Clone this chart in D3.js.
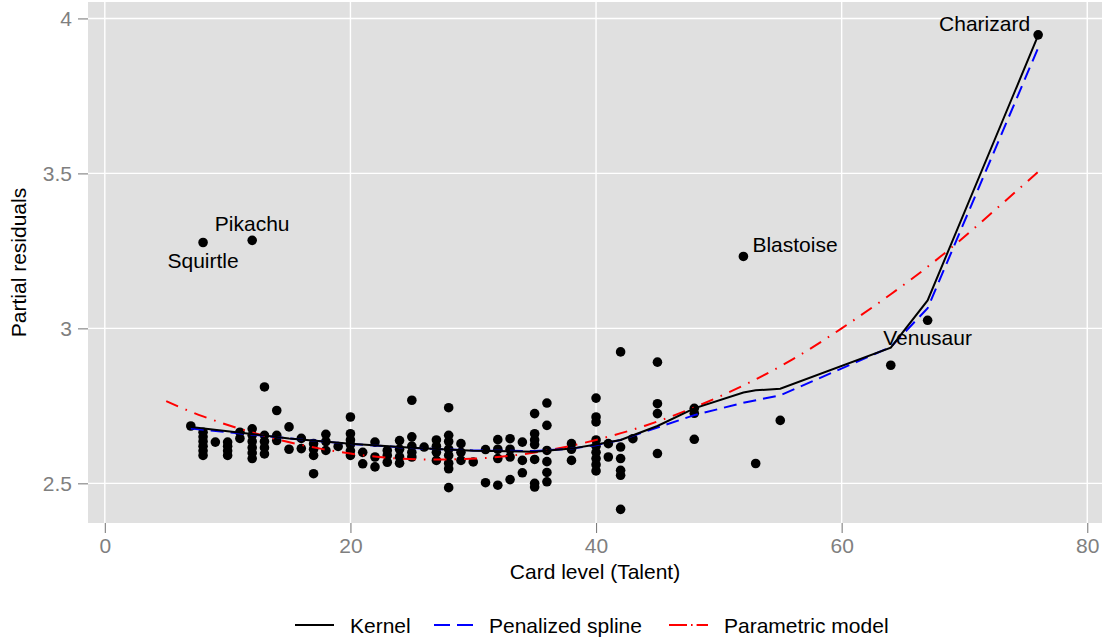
<!DOCTYPE html>
<html>
<head>
<meta charset="utf-8">
<script src="https://cdn.jsdelivr.net/npm/d3@7"></script>
<style>
  body { margin: 0; background: #fff; }
  svg { display: block; font-family: "Liberation Sans", Arial, sans-serif; }
</style>
</head>
<body>
<svg id="chart" width="1104" height="639"></svg>
<script>
// card levels with the partial residuals observed at each level
const pointLevels = [7, 8, 9, 10, 11, 12, 13, 14, 15, 16, 17, 18, 19, 20, 21, 22, 23, 24, 25, 26,
  27, 28, 29, 30, 31, 32, 33, 34, 35, 36, 38, 40, 41, 42, 43, 45, 48, 52, 53, 55, 64, 67, 76];
const pointResiduals = [
  [2.685],
  [3.277, 2.665, 2.65, 2.635, 2.62, 2.605, 2.59],
  [2.633],
  [2.633, 2.62, 2.605, 2.59],
  [2.665, 2.645],
  [3.284, 2.676, 2.655, 2.635, 2.615, 2.598, 2.58],
  [2.811, 2.655, 2.635, 2.615, 2.595],
  [2.735, 2.655, 2.638],
  [2.682, 2.61],
  [2.645, 2.612],
  [2.628, 2.61, 2.59, 2.531],
  [2.658, 2.635, 2.606],
  [2.619],
  [2.714, 2.66, 2.64, 2.625, 2.605, 2.59],
  [2.6, 2.563],
  [2.633, 2.585, 2.553],
  [2.606, 2.59, 2.568],
  [2.638, 2.61, 2.585, 2.565],
  [2.768, 2.65, 2.62, 2.6, 2.585],
  [2.617],
  [2.64, 2.62, 2.6, 2.574],
  [2.744, 2.655, 2.635, 2.61, 2.59, 2.565, 2.547, 2.486],
  [2.628, 2.6, 2.574],
  [2.569],
  [2.609, 2.502],
  [2.641, 2.61, 2.58, 2.494],
  [2.644, 2.61, 2.585, 2.512],
  [2.633, 2.574, 2.534],
  [2.725, 2.66, 2.64, 2.625, 2.577, 2.5, 2.488],
  [2.759, 2.687, 2.606, 2.57, 2.535, 2.505],
  [2.628, 2.61, 2.574],
  [2.775, 2.714, 2.698, 2.64, 2.62, 2.6, 2.58, 2.56, 2.54],
  [2.628, 2.585],
  [2.924, 2.617, 2.58, 2.542, 2.526, 2.416],
  [2.644],
  [2.891, 2.757, 2.725, 2.596],
  [2.742, 2.726, 2.642],
  [3.232],
  [2.564],
  [2.703],
  [2.881],
  [3.026],
  [3.947]
];

const kernelLevels = [7, 10, 15, 20, 25, 30, 35, 38, 40, 42, 45, 48, 52, 53, 55, 64, 67, 76];
const kernelValues = [2.682, 2.668, 2.645, 2.628, 2.615, 2.605, 2.602, 2.612, 2.625, 2.64, 2.685,
  2.742, 2.793, 2.8, 2.805, 2.938, 3.09, 3.945];

const splineLevels = [7, 10, 15, 20, 25, 30, 35, 38, 40, 42, 45, 48, 52, 55, 64, 67, 76];
const splineValues = [2.677, 2.665, 2.645, 2.627, 2.614, 2.606, 2.604, 2.612, 2.623, 2.64, 2.68,
  2.72, 2.76, 2.784, 2.94, 3.065, 3.905];

const paramLevels = [5, 8, 12, 16, 20, 24, 28, 32, 36, 40, 44, 48, 52, 56, 60, 64, 68, 72, 76];
const paramValues = [2.765, 2.716, 2.664, 2.624, 2.596, 2.58, 2.577, 2.585, 2.606, 2.64, 2.686,
  2.745, 2.816, 2.9, 3.0, 3.11, 3.23, 3.365, 3.505];

const labelNames = ["Squirtle", "Pikachu", "Blastoise", "Venusaur", "Charizard"];
const labelLevels = [8, 12, 52, 67, 76];
const labelResiduals = [3.277, 3.284, 3.232, 3.026, 3.947];

const xTicks = [0, 20, 40, 60, 80];
const yTicks = [2.5, 3, 3.5, 4];

const svg = d3.select("#chart");
const width = +svg.attr("width");
const height = +svg.attr("height");

const margin = { top: 2, right: 2, bottom: 116, left: 88 };
const innerWidth = width - margin.left - margin.right;
const innerHeight = height - margin.top - margin.bottom;

const x = d3.scaleLinear().domain([-1.37, 81.2]).range([0, innerWidth]);
const y = d3.scaleLinear().domain([2.372, 4.053]).range([innerHeight, 0]);

const root = svg.append("g").attr("transform", `translate(${margin.left}, ${margin.top})`);

root.append("rect")
  .attr("width", innerWidth)
  .attr("height", innerHeight)
  .attr("fill", "#e0e0e0");

// white major grid
root.append("g")
  .selectAll("line")
  .data(xTicks)
  .join("line")
  .attr("x1", d => x(d)).attr("x2", d => x(d))
  .attr("y1", 0).attr("y2", innerHeight)
  .attr("stroke", "#fff").attr("stroke-width", 1.4);

root.append("g")
  .selectAll("line")
  .data(yTicks)
  .join("line")
  .attr("x1", 0).attr("x2", innerWidth)
  .attr("y1", d => y(d)).attr("y2", d => y(d))
  .attr("stroke", "#fff").attr("stroke-width", 1.4);

function styleAxis(selection) {
  selection.select(".domain").remove();
  selection.selectAll("line").attr("stroke", "#7f7f7f").attr("stroke-width", 1.1);
  selection.selectAll("text")
    .attr("fill", "#7f7f7f")
    .attr("font-size", 21)
    .attr("font-family", '"Liberation Sans", Arial, sans-serif');
}

root.append("g")
  .attr("transform", `translate(0, ${innerHeight})`)
  .call(d3.axisBottom(x).tickValues(xTicks).tickSize(10).tickPadding(5).tickFormat(d3.format("d")))
  .call(styleAxis);

root.append("g")
  .call(d3.axisLeft(y).tickValues(yTicks).tickSize(10).tickPadding(6).tickFormat(d => String(d)))
  .call(styleAxis);

// points
const points = pointLevels.flatMap((lvl, i) => pointResiduals[i].map(v => ({ lvl, v })));

root.append("g")
  .selectAll("circle")
  .data(points)
  .join("circle")
  .attr("cx", d => x(d.lvl))
  .attr("cy", d => y(d.v))
  .attr("r", 4.8)
  .attr("fill", "#000");

// fitted curves
const line = d3.line().x(d => x(d[0])).y(d => y(d[1]));

root.append("path")
  .datum(paramLevels.map((l, i) => [l, paramValues[i]]))
  .attr("fill", "none")
  .attr("stroke", "#ff0000")
  .attr("stroke-width", 2)
  .attr("stroke-dasharray", "13,8,1.6,8")
  .attr("d", line.curve(d3.curveNatural));

root.append("path")
  .datum(splineLevels.map((l, i) => [l, splineValues[i]]))
  .attr("fill", "none")
  .attr("stroke", "#0000ff")
  .attr("stroke-width", 2)
  .attr("stroke-dasharray", "13,7")
  .attr("d", line.curve(d3.curveLinear));

root.append("path")
  .datum(kernelLevels.map((l, i) => [l, kernelValues[i]]))
  .attr("fill", "none")
  .attr("stroke", "#000")
  .attr("stroke-width", 2)
  .attr("d", line.curve(d3.curveLinear));

// names next to notable cards
const labelPlacement = {
  Squirtle: { anchor: "middle", dx: 0, dy: 25 },
  Pikachu: { anchor: "middle", dx: 0, dy: -9 },
  Blastoise: { anchor: "start", dx: 9, dy: -4 },
  Venusaur: { anchor: "middle", dx: 0, dy: 25 },
  Charizard: { anchor: "end", dx: -8, dy: -4 }
};

root.append("g")
  .selectAll("text")
  .data(labelNames)
  .join("text")
  .attr("x", (d, i) => x(labelLevels[i]) + labelPlacement[d].dx)
  .attr("y", (d, i) => y(labelResiduals[i]) + labelPlacement[d].dy)
  .attr("text-anchor", d => labelPlacement[d].anchor)
  .attr("font-size", 21)
  .attr("fill", "#000")
  .text(d => d);

// axis titles
svg.append("text")
  .attr("x", margin.left + innerWidth / 2)
  .attr("y", 579)
  .attr("text-anchor", "middle")
  .attr("font-size", 21)
  .attr("fill", "#000")
  .text("Card level (Talent)");

svg.append("text")
  .attr("transform", "rotate(-90)")
  .attr("x", -(margin.top + innerHeight / 2))
  .attr("y", 26)
  .attr("text-anchor", "middle")
  .attr("font-size", 21)
  .attr("fill", "#000")
  .text("Partial residuals");

// legend
const legendItems = [
  { name: "Kernel", color: "#000", dash: null, x: 295 },
  { name: "Penalized spline", color: "#0000ff", dash: "16,7", x: 434 },
  { name: "Parametric model", color: "#ff0000", dash: "18,4,1.6,4", x: 669 }
];
const legendY = 625;

const legend = svg.append("g");
legendItems.forEach(item => {
  legend.append("line")
    .attr("x1", item.x).attr("x2", item.x + 39)
    .attr("y1", legendY).attr("y2", legendY)
    .attr("stroke", item.color)
    .attr("stroke-width", 2)
    .attr("stroke-dasharray", item.dash);
  legend.append("text")
    .attr("x", item.x + 55)
    .attr("y", legendY + 8)
    .attr("font-size", 21)
    .attr("fill", "#000")
    .text(item.name);
});
</script>
</body>
</html>
